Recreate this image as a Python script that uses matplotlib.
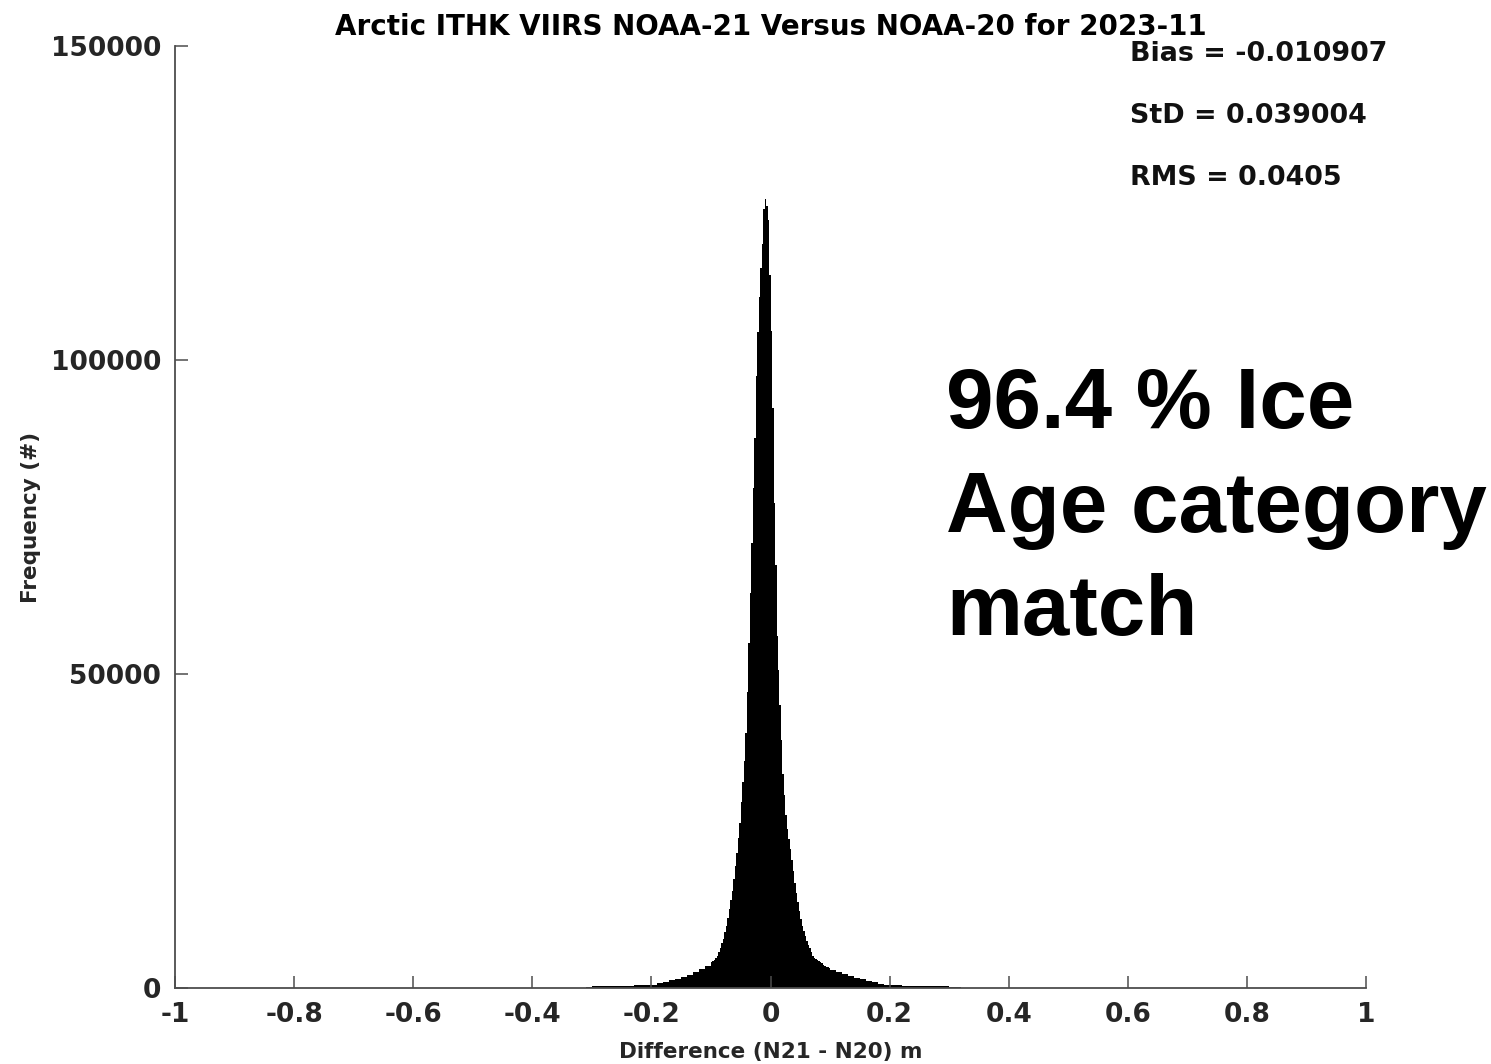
import matplotlib

matplotlib.use("Agg")
import matplotlib.pyplot as plt
import numpy as np

# Histogram of N21 - N20 ice thickness differences (m), counts per bin.
# Fine 0.0025 m bins across the core, coarse 0.01 m bins in the tails.
tail_left_counts = [
    10, 20, 40, 80, 200, 260, 280, 300, 320, 340, 360, 380, 410,
    430, 460, 560, 750, 940, 1210, 1500, 1780, 2070, 2530, 2980, 3500,
]
core_counts = [
    4090, 4315, 4540, 4765, 5090, 5760, 6440, 7110, 7860, 8860,
    9850, 11080, 12540, 13990, 15450, 17380, 19360, 21430, 23840, 26250,
    29550, 32870, 36150, 40560, 47140, 54930, 62930, 70800, 79670, 87520,
    97470, 104460, 110000, 114680, 118500, 124100, 125600, 124500, 122300, 113600,
    104660, 92300, 77200, 67400, 56100, 50700, 45130, 39540, 34140, 30720,
    27520, 25300, 23710, 22100, 20420, 18580, 16740, 15080, 13710, 12340,
    10980, 9910, 9110, 8300, 7530, 6920, 6310, 5710, 5100, 4810,
    4630, 4450, 4270, 4100, 3920, 3740, 3560, 3390, 3270, 3180,
]
tail_right_counts = [
    2950, 2560, 2180, 1890, 1620, 1360, 1120, 910, 720, 560, 460, 420, 400,
    380, 360, 340, 320, 300, 280, 260, 240, 200, 60, 20, 10,
]

edges = np.concatenate([
    np.linspace(-0.35, -0.10, 26),
    np.linspace(-0.10, 0.10, 81)[1:],
    np.linspace(0.10, 0.35, 26)[1:],
])
counts = np.array(tail_left_counts + core_counts + tail_right_counts, dtype=float)

bias, std, rms = -0.010907, 0.039004, 0.0405
match_pct = 96.4

x_ticks = [-1, -0.8, -0.6, -0.4, -0.2, 0, 0.2, 0.4, 0.6, 0.8, 1]
x_tick_labels = ["-1", "-0.8", "-0.6", "-0.4", "-0.2", "0", "0.2", "0.4", "0.6", "0.8", "1"]
y_ticks = [0, 50000, 100000, 150000]

fig = plt.figure(figsize=(14.91, 10.64), dpi=100)
ax = fig.add_axes([0.1174, 0.0714, 0.7988, 0.8854])

ax.stairs(counts, edges, fill=True, color="black", linewidth=0)

ax.set_xlim(-1, 1)
ax.set_ylim(0, 150000)
ax.set_xticks(x_ticks)
ax.set_xticklabels(x_tick_labels)
ax.set_yticks(y_ticks)
ax.set_yticklabels([str(v) for v in y_ticks])

for side in ("top", "right"):
    ax.spines[side].set_visible(False)
for side in ("left", "bottom"):
    ax.spines[side].set_color("#4d4d4d")
    ax.spines[side].set_linewidth(1.3)

ax.tick_params(direction="in", length=9, width=1.1, color="#4d4d4d",
               labelsize=19, labelcolor="#262626", pad=10)
for lbl in ax.get_xticklabels() + ax.get_yticklabels():
    lbl.set_fontweight("bold")

ax.set_title("Arctic ITHK VIIRS NOAA-21 Versus NOAA-20 for 2023-11",
             fontsize=20, fontweight="bold", pad=8)
ax.set_xlabel("Difference (N21 - N20) m", fontsize=15.5, fontweight="bold",
              color="#262626", labelpad=10)
ax.set_ylabel("Frequency (#)", fontsize=15.5, fontweight="bold",
              color="#262626", labelpad=7)

stats = [f"Bias = {bias}", f"StD = {std}", f"RMS = {rms}"]
for i, s in enumerate(stats):
    fig.text(1130 / 1491, 1 - (54 + 62 * i) / 1064, s, fontsize=19.4,
             fontweight="bold", va="center", ha="left", color="#111111")

fig.text(946 / 1491, 1 - 366 / 1064, f"{match_pct} % Ice\nAge category\nmatch",
         fontsize=61.5, fontweight="bold", family="Liberation Sans",
         va="top", ha="left", linespacing=1.38)

fig.savefig("out.png", dpi=100, facecolor="white")
